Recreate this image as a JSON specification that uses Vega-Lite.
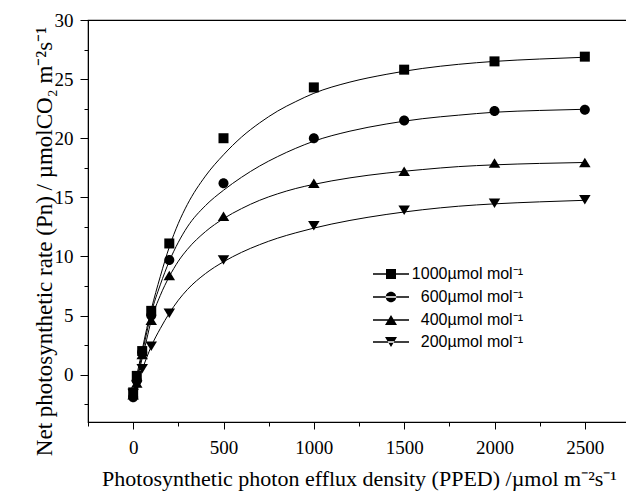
{
  "$schema": "https://vega.github.io/schema/vega-lite/v6.json",
  "width": 542,
  "height": 402,
  "autosize": {"type": "none"},
  "padding": {"left": 88, "top": 20, "right": -4, "bottom": 72},
  "background": "white",
  "config": {
    "font": "Liberation Serif",
    "view": {"stroke": "#000", "strokeWidth": 1.2},
    "axis": {"grid": false, "domainColor": "#000", "tickColor": "#000", "labelColor": "#000", "titleColor": "#000", "labelFont": "Liberation Serif", "titleFont": "Liberation Serif", "labelFontSize": 19, "titleFontSize": 22, "titleFontWeight": "normal", "labelOverlap": false, "labelFlush": false}
  },
  "datasets": {
    "pts": [
      {"ppfd": 0, "pn": -1.5, "co2": "1000"}, {"ppfd": 20, "pn": -0.1, "co2": "1000"}, {"ppfd": 50, "pn": 2.0, "co2": "1000"}, {"ppfd": 100, "pn": 5.4, "co2": "1000"}, {"ppfd": 200, "pn": 11.1, "co2": "1000"}, {"ppfd": 500, "pn": 20.0, "co2": "1000"}, {"ppfd": 1000, "pn": 24.3, "co2": "1000"}, {"ppfd": 1500, "pn": 25.8, "co2": "1000"}, {"ppfd": 2000, "pn": 26.5, "co2": "1000"}, {"ppfd": 2500, "pn": 26.9, "co2": "1000"},
      {"ppfd": 0, "pn": -1.9, "co2": "600"}, {"ppfd": 20, "pn": -0.5, "co2": "600"}, {"ppfd": 50, "pn": 1.9, "co2": "600"}, {"ppfd": 100, "pn": 5.0, "co2": "600"}, {"ppfd": 200, "pn": 9.7, "co2": "600"}, {"ppfd": 500, "pn": 16.2, "co2": "600"}, {"ppfd": 1000, "pn": 20.0, "co2": "600"}, {"ppfd": 1500, "pn": 21.5, "co2": "600"}, {"ppfd": 2000, "pn": 22.3, "co2": "600"}, {"ppfd": 2500, "pn": 22.4, "co2": "600"},
      {"ppfd": 0, "pn": -1.7, "co2": "400"}, {"ppfd": 20, "pn": -0.7, "co2": "400"}, {"ppfd": 50, "pn": 1.7, "co2": "400"}, {"ppfd": 100, "pn": 4.6, "co2": "400"}, {"ppfd": 200, "pn": 8.4, "co2": "400"}, {"ppfd": 500, "pn": 13.4, "co2": "400"}, {"ppfd": 1000, "pn": 16.2, "co2": "400"}, {"ppfd": 1500, "pn": 17.2, "co2": "400"}, {"ppfd": 2000, "pn": 17.9, "co2": "400"}, {"ppfd": 2500, "pn": 17.95, "co2": "400"},
      {"ppfd": 0, "pn": -1.6, "co2": "200"}, {"ppfd": 20, "pn": -0.9, "co2": "200"}, {"ppfd": 50, "pn": 0.5, "co2": "200"}, {"ppfd": 100, "pn": 2.4, "co2": "200"}, {"ppfd": 200, "pn": 5.2, "co2": "200"}, {"ppfd": 500, "pn": 9.7, "co2": "200"}, {"ppfd": 1000, "pn": 12.6, "co2": "200"}, {"ppfd": 1500, "pn": 13.9, "co2": "200"}, {"ppfd": 2000, "pn": 14.5, "co2": "200"}, {"ppfd": 2500, "pn": 14.8, "co2": "200"}
    ],
    "fit": [
      {"ppfd": 0, "pn": -1.6, "co2": "1000"}, {"ppfd": 25, "pn": 0.3, "co2": "1000"}, {"ppfd": 50, "pn": 2.1, "co2": "1000"}, {"ppfd": 75, "pn": 3.9, "co2": "1000"}, {"ppfd": 100, "pn": 5.5, "co2": "1000"}, {"ppfd": 150, "pn": 8.3, "co2": "1000"}, {"ppfd": 200, "pn": 10.8, "co2": "1000"}, {"ppfd": 250, "pn": 12.8, "co2": "1000"}, {"ppfd": 300, "pn": 14.4, "co2": "1000"}, {"ppfd": 400, "pn": 16.8, "co2": "1000"}, {"ppfd": 500, "pn": 18.6, "co2": "1000"}, {"ppfd": 600, "pn": 20.1, "co2": "1000"}, {"ppfd": 700, "pn": 21.3, "co2": "1000"}, {"ppfd": 800, "pn": 22.3, "co2": "1000"}, {"ppfd": 900, "pn": 23.1, "co2": "1000"}, {"ppfd": 1000, "pn": 23.8, "co2": "1000"}, {"ppfd": 1200, "pn": 24.75, "co2": "1000"}, {"ppfd": 1400, "pn": 25.4, "co2": "1000"}, {"ppfd": 1600, "pn": 25.9, "co2": "1000"}, {"ppfd": 1800, "pn": 26.25, "co2": "1000"}, {"ppfd": 2000, "pn": 26.5, "co2": "1000"}, {"ppfd": 2250, "pn": 26.7, "co2": "1000"}, {"ppfd": 2500, "pn": 26.85, "co2": "1000"},
      {"ppfd": 0, "pn": -1.9, "co2": "600"}, {"ppfd": 25, "pn": -0.05, "co2": "600"}, {"ppfd": 50, "pn": 1.8, "co2": "600"}, {"ppfd": 75, "pn": 3.55, "co2": "600"}, {"ppfd": 100, "pn": 5.2, "co2": "600"}, {"ppfd": 150, "pn": 7.6, "co2": "600"}, {"ppfd": 200, "pn": 9.6, "co2": "600"}, {"ppfd": 250, "pn": 11.2, "co2": "600"}, {"ppfd": 300, "pn": 12.5, "co2": "600"}, {"ppfd": 400, "pn": 14.3, "co2": "600"}, {"ppfd": 500, "pn": 15.6, "co2": "600"}, {"ppfd": 600, "pn": 16.7, "co2": "600"}, {"ppfd": 700, "pn": 17.65, "co2": "600"}, {"ppfd": 800, "pn": 18.45, "co2": "600"}, {"ppfd": 900, "pn": 19.15, "co2": "600"}, {"ppfd": 1000, "pn": 19.75, "co2": "600"}, {"ppfd": 1200, "pn": 20.6, "co2": "600"}, {"ppfd": 1400, "pn": 21.2, "co2": "600"}, {"ppfd": 1600, "pn": 21.65, "co2": "600"}, {"ppfd": 1800, "pn": 21.95, "co2": "600"}, {"ppfd": 2000, "pn": 22.2, "co2": "600"}, {"ppfd": 2250, "pn": 22.35, "co2": "600"}, {"ppfd": 2500, "pn": 22.45, "co2": "600"},
      {"ppfd": 0, "pn": -1.7, "co2": "400"}, {"ppfd": 25, "pn": -0.2, "co2": "400"}, {"ppfd": 50, "pn": 1.4, "co2": "400"}, {"ppfd": 75, "pn": 3.0, "co2": "400"}, {"ppfd": 100, "pn": 4.6, "co2": "400"}, {"ppfd": 150, "pn": 6.7, "co2": "400"}, {"ppfd": 200, "pn": 8.3, "co2": "400"}, {"ppfd": 250, "pn": 9.6, "co2": "400"}, {"ppfd": 300, "pn": 10.6, "co2": "400"}, {"ppfd": 400, "pn": 12.1, "co2": "400"}, {"ppfd": 500, "pn": 13.2, "co2": "400"}, {"ppfd": 600, "pn": 14.05, "co2": "400"}, {"ppfd": 700, "pn": 14.75, "co2": "400"}, {"ppfd": 800, "pn": 15.3, "co2": "400"}, {"ppfd": 900, "pn": 15.75, "co2": "400"}, {"ppfd": 1000, "pn": 16.1, "co2": "400"}, {"ppfd": 1200, "pn": 16.65, "co2": "400"}, {"ppfd": 1400, "pn": 17.05, "co2": "400"}, {"ppfd": 1600, "pn": 17.35, "co2": "400"}, {"ppfd": 1800, "pn": 17.6, "co2": "400"}, {"ppfd": 2000, "pn": 17.75, "co2": "400"}, {"ppfd": 2250, "pn": 17.87, "co2": "400"}, {"ppfd": 2500, "pn": 17.95, "co2": "400"},
      {"ppfd": 0, "pn": -1.5, "co2": "200"}, {"ppfd": 25, "pn": -0.55, "co2": "200"}, {"ppfd": 50, "pn": 0.45, "co2": "200"}, {"ppfd": 75, "pn": 1.45, "co2": "200"}, {"ppfd": 100, "pn": 2.4, "co2": "200"}, {"ppfd": 150, "pn": 3.9, "co2": "200"}, {"ppfd": 200, "pn": 5.2, "co2": "200"}, {"ppfd": 250, "pn": 6.3, "co2": "200"}, {"ppfd": 300, "pn": 7.2, "co2": "200"}, {"ppfd": 400, "pn": 8.55, "co2": "200"}, {"ppfd": 500, "pn": 9.55, "co2": "200"}, {"ppfd": 600, "pn": 10.35, "co2": "200"}, {"ppfd": 700, "pn": 11.0, "co2": "200"}, {"ppfd": 800, "pn": 11.55, "co2": "200"}, {"ppfd": 900, "pn": 12.0, "co2": "200"}, {"ppfd": 1000, "pn": 12.4, "co2": "200"}, {"ppfd": 1200, "pn": 13.05, "co2": "200"}, {"ppfd": 1400, "pn": 13.55, "co2": "200"}, {"ppfd": 1600, "pn": 13.95, "co2": "200"}, {"ppfd": 1800, "pn": 14.25, "co2": "200"}, {"ppfd": 2000, "pn": 14.45, "co2": "200"}, {"ppfd": 2250, "pn": 14.62, "co2": "200"}, {"ppfd": 2500, "pn": 14.75, "co2": "200"}
    ]
  },
  "encoding": {
    "x": {
      "field": "ppfd", "type": "quantitative",
      "scale": {"domain": [-250, 2750], "nice": false, "zero": false},
      "axis": {
        "title": "Photosynthetic photon efflux density (PPED) /µmol m⁻²s⁻¹",
        "values": [-250, 0, 250, 500, 750, 1000, 1250, 1500, 1750, 2000, 2250, 2500, 2750],
        "labelExpr": "datum.value % 500 == 0 ? datum.label : ''",
        "format": "d",
        "tickSize": {"condition": {"test": "datum.value % 500 != 0", "value": 4}, "value": 7},
        "labelPadding": 9,
        "titleBaseline": "alphabetic",
        "titleY": 63
      }
    },
    "y": {
      "field": "pn", "type": "quantitative",
      "scale": {"domain": [-4, 30], "nice": false, "zero": false},
      "axis": {
        "title": "Net photosynthetic rate (Pn) / µmolCO₂ m⁻²s⁻¹",
        "values": [-2.5, 0, 2.5, 5, 7.5, 10, 12.5, 15, 17.5, 20, 22.5, 25, 27.5, 30],
        "labelExpr": "datum.value % 5 == 0 ? datum.label : ''",
        "tickSize": {"condition": {"test": "datum.value % 5 != 0", "value": 4}, "value": 8},
        "labelPadding": 7,
        "titleFontSize": 23,
        "titleAngle": 270,
        "titleBaseline": "alphabetic",
        "titleX": -37,
        "titleY": 221
      }
    }
  },
  "resolve": {"scale": {"shape": "independent"}},
  "layer": [
    {
      "data": {"name": "fit"},
      "mark": {"type": "line", "color": "#000", "strokeWidth": 1, "interpolate": "monotone"},
      "encoding": {"detail": {"field": "co2", "type": "nominal"}}
    },
    {
      "data": {"name": "pts"},
      "mark": {"type": "point", "filled": true, "color": "#000", "opacity": 1, "size": 100},
      "encoding": {
        "shape": {
          "field": "co2", "type": "nominal",
          "scale": {
            "domain": ["1000", "600", "400", "200"],
            "range": ["M-1,-1H1V1H-1Z", "M-1,0A1,1,0,1,0,1,0A1,1,0,1,0,-1,0Z", "M0,-0.95L1.15,0.95L-1.15,0.95Z", "M0,0.95L1.15,-0.95L-1.15,-0.95Z"]
          },
          "legend": null
        }
      }
    },
    {
      "data": {"name": "pts"},
      "transform": [{"filter": "false"}],
      "mark": {"type": "point", "filled": true, "color": "#000", "opacity": 1, "size": 100},
      "encoding": {
        "shape": {
          "field": "co2", "type": "nominal",
          "scale": {
            "domain": ["1000", "600", "400", "200"],
            "range": [
              "M-3.6,-0.13H3.6V0.13H-3.6ZM-1,-1H1V1H-1Z",
              "M-3.6,-0.13H3.6V0.13H-3.6ZM-1.05,0A1.05,1.05,0,1,0,1.05,0A1.05,1.05,0,1,0,-1.05,0Z",
              "M-3.6,-0.13H3.6V0.13H-3.6ZM0,-1L1.2,1L-1.2,1Z",
              "M-3.6,-0.13H3.6V0.13H-3.6ZM0,1L1.2,-1L-1.2,-1Z"
            ]
          },
          "legend": {
            "title": null,
            "orient": "none",
            "legendX": 295,
            "legendY": 246,
            "padding": 0,
            "symbolSize": 100,
            "symbolOpacity": 1,
            "symbolFillColor": "#000",
            "labelAlign": "right",
            "labelOffset": 124,
            "rowPadding": 6,
            "labelFont": "Liberation Sans",
            "labelFontSize": 16,
            "labelColor": "#000",
            "labelExpr": "datum.label + 'µmol mol⁻¹'"
          }
        }
      }
    }
  ]
}
